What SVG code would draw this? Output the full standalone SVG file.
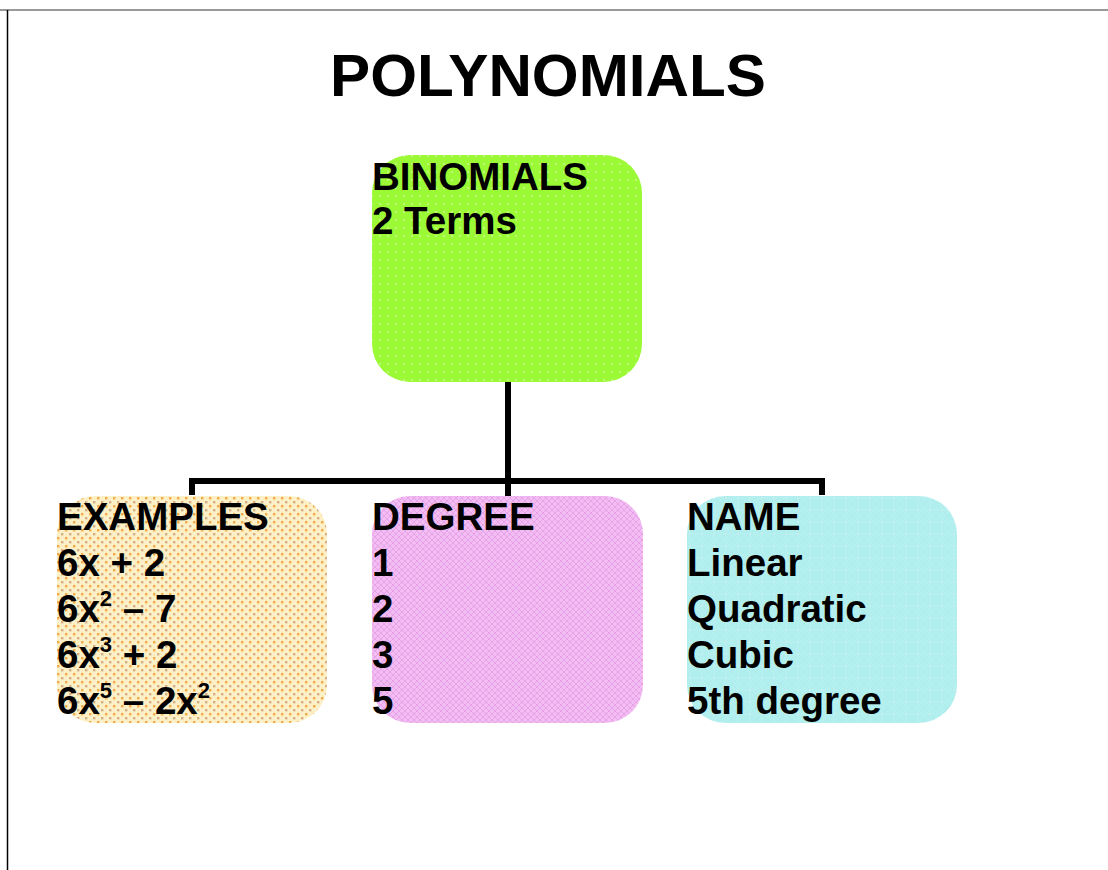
<svg xmlns="http://www.w3.org/2000/svg" width="1108" height="870" viewBox="0 0 1108 870">
<style>
.t{font-family:"Liberation Sans",Arial,sans-serif;font-weight:bold;fill:#000}
.lbl{font-size:38.5px}
.sup{font-size:22px}
.conn{stroke:#000;stroke-width:6;fill:none}
</style>
<defs>
<pattern id="pGreen" width="8" height="8" patternUnits="userSpaceOnUse">
<rect width="8" height="8" fill="#9cf936"/>
<circle cx="4" cy="4" r="1.1" fill="#c4fb86"/>
</pattern>
<pattern id="pOrange" width="8" height="8" patternUnits="userSpaceOnUse">
<rect width="8" height="8" fill="#fdf0c6"/>
<rect x="1" y="1" width="2.4" height="2.4" fill="#f2ab48"/>
<rect x="5" y="5" width="2.4" height="2.4" fill="#d2b088"/>
</pattern>
<pattern id="pPink" width="6" height="6" patternUnits="userSpaceOnUse">
<rect width="6" height="6" fill="#f2bdf2"/>
<path d="M0 0L6 6M6 0L0 6" stroke="#e7a2e8" stroke-width="1"/>
</pattern>
<pattern id="pCyan" width="12" height="12" patternUnits="userSpaceOnUse">
<rect width="12" height="12" fill="#b3efee"/>
<circle cx="6" cy="6" r="1.2" fill="#e8fbfb"/>
<path d="M0 0L12 12M12 0L0 12" stroke="#a6e8e8" stroke-width="0.6"/>
</pattern>
</defs>
<rect width="1108" height="870" fill="#fff"/>
<line x1="0" y1="10" x2="1108" y2="10" stroke="#777" stroke-width="1.5"/>
<line x1="7.5" y1="10" x2="7.5" y2="870" stroke="#000" stroke-width="1.5"/>
<text id="title" class="t" x="548" y="96" font-size="60" text-anchor="middle" textLength="436" lengthAdjust="spacingAndGlyphs">POLYNOMIALS</text>
<g id="connectors">
<line class="conn" x1="508" y1="382" x2="508" y2="496"/>
<line class="conn" x1="189" y1="481" x2="825" y2="481"/>
<line class="conn" x1="192" y1="481" x2="192" y2="495"/>
<line class="conn" x1="822" y1="481" x2="822" y2="495"/>
</g>
<g id="binomials">
<rect x="372" y="155" width="270" height="227" rx="38" fill="url(#pGreen)"/>
<text class="t lbl" x="372" y="190">BINOMIALS</text>
<text class="t lbl" x="372" y="234">2 Terms</text>
</g>
<g id="examples">
<rect x="57" y="496" width="270" height="227" rx="38" fill="url(#pOrange)"/>
<text class="t lbl" x="57" y="530">EXAMPLES</text>
<text class="t lbl" x="57" y="576">6x + 2</text>
<text class="t lbl" x="57" y="622">6x<tspan class="sup" dy="-16">2</tspan><tspan dy="16"> – 7</tspan></text>
<text class="t lbl" x="57" y="668">6x<tspan class="sup" dy="-16">3</tspan><tspan dy="16"> + 2</tspan></text>
<text class="t lbl" x="57" y="714">6x<tspan class="sup" dy="-16">5</tspan><tspan dy="16"> – 2x</tspan><tspan class="sup" dy="-16">2</tspan></text>
</g>
<g id="degree">
<rect x="372" y="496" width="271" height="227" rx="38" fill="url(#pPink)"/>
<text class="t lbl" x="372" y="530">DEGREE</text>
<text class="t lbl" x="372" y="576">1</text>
<text class="t lbl" x="372" y="622">2</text>
<text class="t lbl" x="372" y="668">3</text>
<text class="t lbl" x="372" y="714">5</text>
</g>
<g id="name">
<rect x="687" y="496" width="270" height="227" rx="38" fill="url(#pCyan)"/>
<text class="t lbl" x="687" y="530">NAME</text>
<text class="t lbl" x="687" y="576">Linear</text>
<text class="t lbl" x="687" y="622">Quadratic</text>
<text class="t lbl" x="687" y="668">Cubic</text>
<text class="t lbl" x="687" y="714">5th degree</text>
</g>
</svg>
